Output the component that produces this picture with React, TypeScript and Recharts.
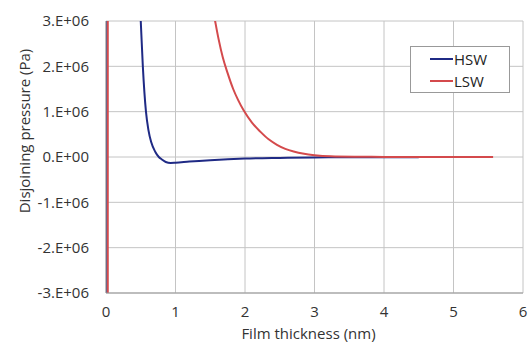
import { LineChart, Line, XAxis, YAxis, CartesianGrid } from 'recharts';

// HSW curve (film thickness in nm, disjoining pressure in Pa)
const hswX = [0, 0.001, 0.45, 0.5, 0.53, 0.575, 0.61, 0.65, 0.71, 0.76, 0.8, 0.86, 0.93, 1.0, 1.2, 1.5, 2.0, 2.5, 3.0, 3.5, 4.0, 4.5];
const hswY = [-1e8, 1e8, 4.5e6, 3.0e6, 2.0e6, 1.0e6, 0.6e6, 0.33e6, 0.11e6, 0, -0.05e6, -0.11e6, -0.13e6, -0.125e6, -0.1e6, -0.07e6, -0.035e6, -0.02e6, -0.01e6, -0.006e6, -0.004e6, -0.003e6];

// LSW curve
const lswX = [0.025, 0.026, 1.45, 1.5, 1.57, 1.62, 1.68, 1.75, 1.83, 1.9, 1.98, 2.1, 2.22, 2.34, 2.46, 2.58, 2.7, 2.85, 3.0, 3.23, 3.6, 4.0, 4.5, 5.0, 5.57];
const lswY = [-1e8, 1e8, 4.1e6, 3.6e6, 3.0e6, 2.6e6, 2.2e6, 1.85e6, 1.5e6, 1.26e6, 1.03e6, 0.76e6, 0.56e6, 0.39e6, 0.27e6, 0.18e6, 0.12e6, 0.07e6, 0.04e6, 0.015e6, 0.005e6, 0.002e6, 0.001e6, 0.0005e6, 0.0003e6];

const xTicks = [0, 1, 2, 3, 4, 5, 6];
const yTicks = [-3e6, -2e6, -1e6, 0, 1e6, 2e6, 3e6];
const yTickLabels = ['-3.E+06', '-2.E+06', '-1.E+06', '0.E+00', '1.E+06', '2.E+06', '3.E+06'];

const seriesNames = ['HSW', 'LSW'];
const COLORS = ['#1f2a85', '#d44a4c'];

const hswData = hswX.map((x, i) => ({ x, y: hswY[i] }));
const lswData = lswX.map((x, i) => ({ x, y: lswY[i] }));

const FONT = '"Open Sans", sans-serif';

function LegendBox() {
    return (
        <div
            style={{
                position: 'absolute',
                left: 410,
                top: 46,
                width: 100,
                height: 47,
                border: '1px solid #999',
                background: '#fff',
                fontFamily: FONT,
                fontSize: 15,
                color: '#222',
                boxSizing: 'border-box',
                paddingTop: 1,
            }}
        >
            {seriesNames.map((name, i) => (
                <div key={name} style={{ display: 'flex', alignItems: 'center', height: 22, paddingLeft: 19 }}>
                    <span style={{ display: 'inline-block', width: 23, height: 2, background: COLORS[i] }} />
                    <span style={{ marginLeft: 1 }}>{name}</span>
                </div>
            ))}
        </div>
    );
}

export default function App() {
    return (
        <div style={{ position: 'fixed', left: 0, top: 0, width: 530, height: 343, background: '#fff' }}>
            <LineChart width={530} height={343} margin={{ top: 21, right: 7, bottom: 4, left: 10 }}>
                <CartesianGrid stroke="#c4c4c4" strokeWidth={1} horizontalValues={yTicks} verticalValues={xTicks} />
                <XAxis
                    type="number"
                    dataKey="x"
                    domain={[0, 6]}
                    ticks={xTicks}
                    allowDataOverflow
                    tickLine={false}
                    tickSize={0}
                    tickMargin={13}
                    axisLine={{ stroke: '#999' }}
                    height={46}
                    tick={{ fill: '#333', fontSize: 15, fontFamily: FONT }}
                    label={{ value: 'Film thickness (nm)', position: 'insideBottom', offset: 0, dx: -6, fill: '#333', fontSize: 15, fontFamily: FONT }}
                />
                <YAxis
                    type="number"
                    dataKey="y"
                    domain={[-3e6, 3e6]}
                    ticks={yTicks}
                    allowDataOverflow
                    tickLine={false}
                    tickSize={0}
                    tickMargin={17}
                    width={96}
                    axisLine={{ stroke: '#999' }}
                    tickFormatter={(v: number) => yTickLabels[yTicks.indexOf(v)] ?? ''}
                    tick={{ fill: '#333', fontSize: 15, fontFamily: FONT }}
                    label={{ value: 'Disjoining pressure (Pa)', angle: -90, position: 'center', dx: -33, dy: -26, fill: '#333', fontSize: 15, fontFamily: FONT }}
                />
                <Line
                    data={hswData}
                    dataKey="y"
                    name="HSW"
                    type="monotone"
                    stroke={COLORS[0]}
                    strokeWidth={2}
                    dot={false}
                    isAnimationActive={false}
                />
                <Line
                    data={lswData}
                    dataKey="y"
                    name="LSW"
                    type="monotone"
                    stroke={COLORS[1]}
                    strokeWidth={2}
                    dot={false}
                    isAnimationActive={false}
                />
            </LineChart>
            <LegendBox />
        </div>
    );
}
